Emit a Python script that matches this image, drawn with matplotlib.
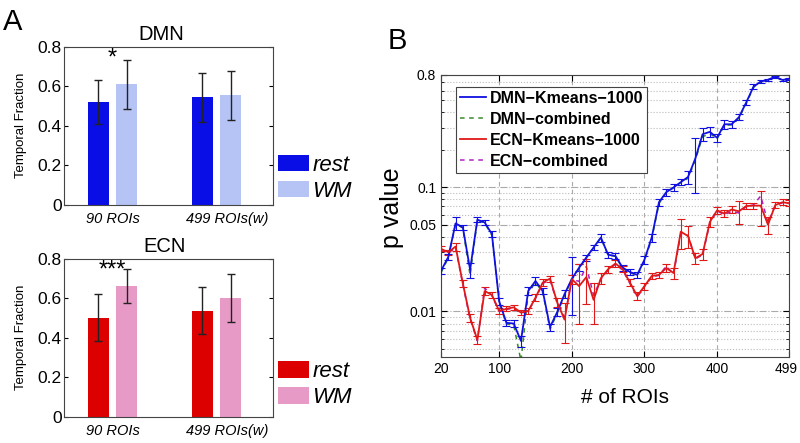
## Temporal fraction bars (A) and p value vs number of ROIs (B)

import matplotlib
matplotlib.use('Agg')
from matplotlib import pyplot as plt
from matplotlib.patches import Patch
from matplotlib.lines import Line2D
import matplotlib.transforms as mtrans
import numpy as np

plt.rcParams['font.family'] = ['Liberation Sans', 'DejaVu Sans']

# Panel A data
groups = ['90 ROIs', '499 ROIs(w)']
dmn_rest = [0.521, 0.544]
dmn_rest_err = [0.110, 0.124]
dmn_wm = [0.609, 0.554]
dmn_wm_err = [0.123, 0.124]
ecn_rest = [0.501, 0.537]
ecn_rest_err = [0.118, 0.118]
ecn_wm = [0.662, 0.601]
ecn_wm_err = [0.088, 0.120]

# Panel B data
rois = [20, 30, 40, 50, 60, 70, 80, 90, 100, 110, 120, 130, 140, 150, 160, 170,
        180, 190, 200, 210, 220, 230, 240, 250, 260, 270, 280, 290, 300, 310,
        320, 330, 340, 350, 360, 370, 380, 390, 400, 410, 420, 430, 440, 450,
        460, 470, 480, 490, 499]
dmn_km = [0.0212, 0.0275, 0.0512, 0.0475, 0.0217, 0.0548, 0.0521, 0.0420,
          0.0121, 0.0081, 0.0080, 0.0058, 0.0146, 0.0176, 0.0146, 0.0075,
          0.0099, 0.0138, 0.0183, 0.0225, 0.0272, 0.0327, 0.0394, 0.0286,
          0.0280, 0.0225, 0.0208, 0.0197, 0.0261, 0.0394, 0.0757, 0.0912,
          0.0996, 0.1097, 0.121, 0.170, 0.267, 0.279, 0.250, 0.321, 0.321,
          0.366, 0.480, 0.643, 0.709, 0.733, 0.775, 0.729, 0.746]
dmn_km_err = [0.0012, 0.0015, 0.0060, 0.0025, 0.0030, 0.0025, 0.0020, 0.0025,
              0.0008, 0.0005, 0.0005, 0.0006, 0.0010, 0.0012, 0.0008, 0.0005,
              0.0007, 0.0010, 0.0090, 0.0015, 0.0015, 0.0015, 0.0030, 0.0015,
              0.0015, 0.0012, 0.0012, 0.0012, 0.0020, 0.0030, 0.0050, 0.0060,
              0.0060, 0.0060, 0.0150, 0.0800, 0.0300, 0.0250, 0.0200, 0.0250,
              0.0200, 0.0200, 0.0250, 0.0300, 0.0200, 0.0150, 0.0150, 0.0150,
              0.0150]
dmn_comb = [0.0205, 0.0270, 0.0505, 0.0470, 0.0195, 0.0545, 0.0515, 0.0410,
            0.0118, 0.0079, 0.0078, 0.0040, 0.0140, 0.0172, 0.0142, 0.0072,
            0.0097, 0.0135, 0.0180, 0.0222, 0.0270, 0.0325, 0.0390, 0.0284,
            0.0278, 0.0222, 0.0205, 0.0195, 0.0255, 0.0385, 0.0740, 0.0900,
            0.0990, 0.1090, 0.1180, 0.165, 0.255, 0.270, 0.245, 0.315, 0.318,
            0.360, 0.470, 0.635, 0.705, 0.730, 0.770, 0.725, 0.745]
ecn_km = [0.0319, 0.0300, 0.0333, 0.0168, 0.0089, 0.0059, 0.0146, 0.0136,
          0.0101, 0.0105, 0.0108, 0.0098, 0.0101, 0.0129, 0.0171, 0.0184,
          0.0118, 0.0086, 0.0182, 0.0160, 0.0189, 0.0124, 0.0185, 0.0219,
          0.0243, 0.0219, 0.0171, 0.0133, 0.0160, 0.0193, 0.0197, 0.0224,
          0.0204, 0.0439, 0.0404, 0.0268, 0.0290, 0.0525, 0.0652, 0.0613,
          0.0662, 0.0640, 0.0705, 0.0711, 0.0711, 0.0499, 0.0718, 0.0757,
          0.0743]
ecn_km_err = [0.0015, 0.0015, 0.0025, 0.0010, 0.0006, 0.0004, 0.0010, 0.0008,
              0.0006, 0.0005, 0.0005, 0.0005, 0.0006, 0.0008, 0.0010, 0.0010,
              0.0010, 0.0030, 0.0015, 0.0080, 0.0075, 0.0045, 0.0020, 0.0015,
              0.0015, 0.0012, 0.0012, 0.0010, 0.0010, 0.0012, 0.0012, 0.0015,
              0.0020, 0.0120, 0.0080, 0.0025, 0.0030, 0.0050, 0.0040, 0.0040,
              0.0040, 0.0130, 0.0040, 0.0040, 0.0220, 0.0080, 0.0040, 0.0040,
              0.0040]
ecn_comb = [0.0310, 0.0295, 0.0328, 0.0165, 0.0087, 0.0058, 0.0155, 0.0134,
            0.0100, 0.0104, 0.0106, 0.0097, 0.0100, 0.0127, 0.0168, 0.0180,
            0.0116, 0.0090, 0.0180, 0.0175, 0.0230, 0.0135, 0.0182, 0.0215,
            0.0240, 0.0215, 0.0168, 0.0131, 0.0158, 0.0190, 0.0195, 0.0232,
            0.0200, 0.0420, 0.0410, 0.0265, 0.0285, 0.0515, 0.0645, 0.0600,
            0.0640, 0.0620, 0.0700, 0.0720, 0.0850, 0.0520, 0.0710, 0.0750,
            0.0740]

dmn_cols = ['#0a0ee6', '#b5c3f5']
ecn_cols = ['#dc0000', '#e89ac6']

fig = plt.figure(figsize=(8, 4.43), dpi=100)

ax_d = fig.add_axes([0.0804, 0.5379, 0.2605, 0.3567])
ax_e = fig.add_axes([0.0804, 0.0594, 0.2605, 0.3567])

x = np.arange(1, len(groups) + 1)
off = 0.135
w = 0.2
panels = [
    (ax_d, 'DMN', dmn_rest, dmn_rest_err, dmn_wm, dmn_wm_err, dmn_cols, '*', 0.467, 0.168),
    (ax_e, 'ECN', ecn_rest, ecn_rest_err, ecn_wm, ecn_wm_err, ecn_cols, '***', 0.48, 0.2025),
]
for ax, name, r, re, m, me, cols, star, tx, ly in panels:
    ax.bar(x - off, r, w, color=cols[0], zorder=2)
    ax.bar(x + off, m, w, color=cols[1], zorder=2)
    ax.errorbar(x - off, r, yerr=re, fmt='none', ecolor='#222222', elinewidth=1,
                capsize=3, capthick=1, zorder=3)
    ax.errorbar(x + off, m, yerr=me, fmt='none', ecolor='#222222', elinewidth=1,
                capsize=3, capthick=1, zorder=3)
    ax.set_xlim(0.537, 2.54)
    ax.set_ylim(0, 0.8)
    ax.set_yticks([0, 0.2, 0.4, 0.6, 0.8])
    ax.set_yticklabels(['0', '0.2', '0.4', '0.6', '0.8'])
    # second label sits a bit right of its group in the original
    ax.set_xticks([1, 2.1])
    ax.set_xticklabels(groups, fontstyle='italic', fontsize=10.5)
    ax.tick_params(axis='y', labelsize=12.5, direction='in', right=True, length=3, pad=2)
    ax.tick_params(axis='x', direction='in', length=0, pad=5)
    for s in ax.spines.values():
        s.set_color('#444444')
        s.set_linewidth(0.8)
    ax.set_title(name, fontsize=14.5, x=tx, pad=5)
    ax.set_ylabel('Temporal Fraction', fontsize=9.5)
    ax.yaxis.set_label_coords(-0.179, 0.5)
    ax.text(1.0, 0.74, star, ha='center', va='center', fontsize=17)
    hs = [Patch(facecolor=cols[0], edgecolor='none'), Patch(facecolor=cols[1], edgecolor='none')]
    ax.legend(hs, ['rest', 'WM'], loc='center left', bbox_to_anchor=(1.025, ly),
              frameon=False, borderpad=0, borderaxespad=0, handlelength=1.4,
              handleheight=0.75, handletextpad=0.15, labelspacing=0.22,
              prop={'style': 'italic', 'size': 16})

# Panel B
ax = fig.add_axes([0.5513, 0.1941, 0.435, 0.6366])
ax.errorbar(rois, dmn_km, yerr=dmn_km_err, color='#1010e0', lw=1.3, capsize=3,
            elinewidth=0.8, capthick=0.8, zorder=4)
ax.plot(rois, dmn_comb, color='#3a8a2a', lw=1.1, ls=(0, (3, 3)), zorder=3)
ax.errorbar(rois, ecn_km, yerr=ecn_km_err, color='#e01818', lw=1.3, capsize=3,
            elinewidth=0.8, capthick=0.8, zorder=4)
ax.plot(rois, ecn_comb, color='#b020c0', lw=1.1, ls=(0, (3, 3)), zorder=3)

ax.set_yscale('log')
ax.set_xlim(20, 499)
ax.set_ylim(0.0043, 0.8)
ax.set_xticks([20, 100, 200, 300, 400, 499])
ax.set_xticklabels(['20', '100', '200', '300', '400', '499'])
ax.set_yticks([0.01, 0.05, 0.1, 0.8])
ax.set_yticklabels(['0.01', '0.05', '0.1', '0.8'])
minor = [0.005, 0.006, 0.007, 0.008, 0.009, 0.02, 0.03, 0.04, 0.06, 0.07, 0.08,
         0.09, 0.2, 0.3, 0.4, 0.5, 0.6, 0.7]
ax.set_yticks(minor, minor=True)
ax.yaxis.set_minor_formatter(plt.NullFormatter())
ax.tick_params(which='both', direction='in', right=True, top=True, labelsize=10)
ax.tick_params(which='major', length=4)
ax.tick_params(which='minor', length=2)
last = ax.get_xticklabels()[-1]
last.set_transform(last.get_transform() + mtrans.ScaledTranslation(-0.03, 0, fig.dpi_scale_trans))
ax.grid(True, axis='x', which='major', color='#aaaaaa', ls=(0, (4, 3)), lw=0.8)
ax.grid(True, axis='y', which='major', color='#aaaaaa', ls='-.', lw=0.8)
ax.grid(True, axis='y', which='minor', color='#bbbbbb', ls=':', lw=0.8)
for s in ax.spines.values():
    s.set_color('#444444')
    s.set_linewidth(0.8)
ax.set_ylabel('p value', fontsize=18)
ax.yaxis.set_label_coords(-0.105, 0.53)
ax.set_xlabel('# of ROIs', fontsize=15)
ax.xaxis.set_label_coords(0.53, -0.11)

handles = [Line2D([], [], color='#1010e0', lw=1.3),
           Line2D([], [], color='#3a8a2a', lw=1.1, ls=(0, (3, 3))),
           Line2D([], [], color='#e01818', lw=1.3),
           Line2D([], [], color='#b020c0', lw=1.1, ls=(0, (3, 3)))]
labels = ['DMN\u2212Kmeans\u22121000', 'DMN\u2212combined',
          'ECN\u2212Kmeans\u22121000', 'ECN\u2212combined']
leg = ax.legend(handles, labels, loc='upper left', bbox_to_anchor=(0.043, 0.9585),
                prop={'weight': 'bold', 'size': 11.5}, fancybox=False,
                borderpad=0.25, handlelength=1.6, handletextpad=0.25,
                labelspacing=0.38, borderaxespad=0)
leg.get_frame().set_edgecolor('#444444')
leg.get_frame().set_linewidth(0.8)
leg.get_frame().set_alpha(1)

fig.text(0.004, 0.982, 'A', fontsize=21, va='top', ha='left')
fig.text(0.485, 0.94, 'B', fontsize=21, va='top', ha='left')

plt.savefig('out.png', dpi=100)
